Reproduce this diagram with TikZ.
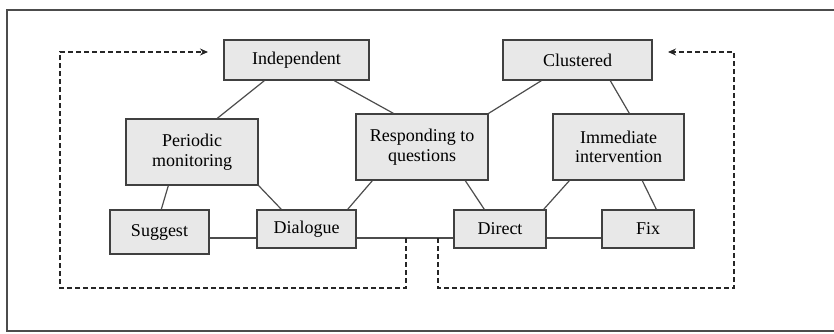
\documentclass[tikz,border=0pt]{standalone}
\usepackage{fontspec}
\setmainfont{Liberation Serif}
\usetikzlibrary{calc,arrows.meta}

\begin{document}
\begin{tikzpicture}[x=1pt,y=-1pt,
  box/.style={draw=black!75,fill=black!9,line width=1.4pt,inner sep=0pt,align=center,
    font=\fontsize{18}{19.5}\selectfont},
  link/.style={draw=black!70,line width=1.2pt},
  feedback/.style={draw=black!85,line width=1.1pt,dash pattern=on 5pt off 3pt}]
\useasboundingbox (0,0) rectangle (834,333);
\draw[black!70,line width=1.5pt] (834,10) -- (7,10) -- (7,331) -- (834,331);

\node[box,minimum width=145pt,minimum height=40pt] (indep) at (296.5,60) {Independent};
\node[box,minimum width=149pt,minimum height=40pt] (cluster) at (577.5,60) {Clustered};
\node[box,minimum width=132pt,minimum height=66pt] (periodic) at (192,152) {Periodic\\monitoring};
\node[box,minimum width=132pt,minimum height=66pt] (respond) at (422,147) {Responding to\\questions};
\node[box,minimum width=131pt,minimum height=66pt] (immed) at (618.5,147) {Immediate\\intervention};
\node[box,minimum width=99pt,minimum height=44pt] (suggest) at (159.5,232) {Suggest};
\node[box,minimum width=99pt,minimum height=38pt] (dialogue) at (306.5,229) {Dialogue};
\node[box,minimum width=92pt,minimum height=38pt] (direct) at (500,229) {Direct};
\node[box,minimum width=92pt,minimum height=38pt] (fix) at (648,229) {Fix};

\draw[link] ($(indep.south west)+(41,0)$) -- ($(periodic.north west)+(92,0)$);
\draw[link] ($(indep.south west)+(111,0)$) -- ($(respond.north west)+(38,0)$);
\draw[link] ($(cluster.south west)+(39,0)$) -- (respond.north east);
\draw[link] ($(cluster.south west)+(108,0)$) -- ($(immed.north west)+(77,0)$);
\draw[link] ($(periodic.south west)+(43,0)$) -- ($(suggest.north west)+(52,0)$);
\draw[link] (periodic.south east) -- ($(dialogue.north west)+(25,0)$);
\draw[link] ($(respond.south west)+(17,0)$) -- ($(dialogue.north east)+(-9,0)$);
\draw[link] ($(respond.south west)+(110,0)$) -- ($(direct.north west)+(31,0)$);
\draw[link] ($(immed.south west)+(17,0)$) -- ($(direct.north east)+(-3,0)$);
\draw[link] ($(immed.south west)+(90,0)$) -- ($(fix.north west)+(55,0)$);

% feedback loops
\coordinate (lstart) at (406,238);
\coordinate (lbot) at (60,288);
\coordinate (lend) at (208,52);
\coordinate (rstart) at (438,238);
\coordinate (rbot) at (734,288);
\coordinate (rend) at (668,52);

\draw[link] (suggest.east |- lstart) -- (dialogue.west |- lstart);
\draw[link] (dialogue.east |- lstart) -- (direct.west |- lstart);
\draw[link] (direct.east |- lstart) -- (fix.west |- lstart);

\draw[feedback,-{Stealth[length=8pt,width=7pt]}] (lstart) |- (lbot) |- (lend);
\draw[feedback,-{Stealth[length=8pt,width=7pt]}] (rstart) |- (rbot) |- (rend);
\end{tikzpicture}
\end{document}
